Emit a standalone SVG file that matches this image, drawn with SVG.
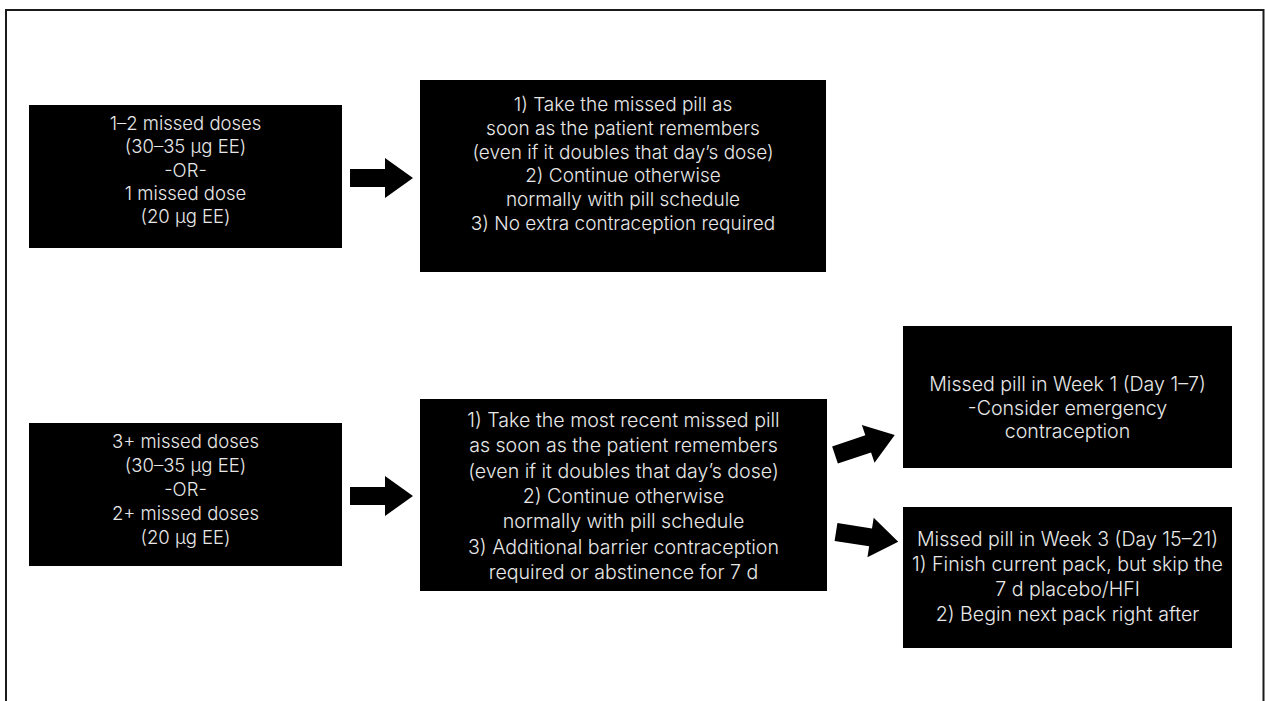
<svg xmlns="http://www.w3.org/2000/svg" width="1265" height="701" viewBox="0 0 1265 701">
<style>
.box{fill:#000}
.t{font-family:Inter,"Liberation Sans",Arial,sans-serif;font-weight:300;font-size:19px;fill:#e8e8e8;text-anchor:middle}
.s0{font-size:18.5px}
.s1{font-size:19px}
.s2{font-size:19.6px}
.arrow{fill:#000}
</style>
<defs>
<polygon id="arr" points="0,-9 35,-9 35,-20 63,0 35,20 35,9 0,9"/>
</defs>
<rect width="1265" height="701" fill="#fff"/>
<path d="M6,701 V10 H1263.5 V701" fill="none" stroke="#1a1a1a" stroke-width="2"/>
<g id="n1">
<rect class="box" x="29" y="105" width="313" height="143"/>
<text class="t s0" x="185.5" y="130">1–2 missed doses</text>
<text class="t s0" x="185.5" y="153.3">(30–35 μg EE)</text>
<text class="t s0" x="185.5" y="176.6">-OR-</text>
<text class="t s0" x="185.5" y="200">1 missed dose</text>
<text class="t s0" x="185.5" y="223.3">(20 μg EE)</text>
</g>
<g id="n2">
<rect class="box" x="420" y="80" width="406" height="192"/>
<text class="t s1" x="623" y="111">1) Take the missed pill as</text>
<text class="t s1" x="623" y="134.8">soon as the patient remembers</text>
<text class="t s1" x="623" y="158.6">(even if it doubles that day’s dose)</text>
<text class="t s1" x="623" y="182.4">2) Continue otherwise</text>
<text class="t s1" x="623" y="206.2">normally with pill schedule</text>
<text class="t s1" x="623" y="230">3) No extra contraception required</text>
</g>
<g id="n3">
<rect class="box" x="29" y="423" width="313" height="143"/>
<text class="t s0" x="185.5" y="448">3+ missed doses</text>
<text class="t s0" x="185.5" y="472">(30–35 μg EE)</text>
<text class="t s0" x="185.5" y="496">-OR-</text>
<text class="t s0" x="185.5" y="520">2+ missed doses</text>
<text class="t s0" x="185.5" y="544">(20 μg EE)</text>
</g>
<g id="n4">
<rect class="box" x="420" y="399" width="407" height="192"/>
<text class="t s2" x="623.5" y="427">1) Take the most recent missed pill</text>
<text class="t s2" x="623.5" y="452.3">as soon as the patient remembers</text>
<text class="t s2" x="623.5" y="477.6">(even if it doubles that day’s dose)</text>
<text class="t s2" x="623.5" y="503">2) Continue otherwise</text>
<text class="t s2" x="623.5" y="528.3">normally with pill schedule</text>
<text class="t s2" x="623.5" y="553.6">3) Additional barrier contraception</text>
<text class="t s2" x="623.5" y="579">required or abstinence for 7 d</text>
</g>
<g id="n5">
<rect class="box" x="903" y="326" width="329" height="142"/>
<text class="t s2" x="1067.5" y="391">Missed pill in Week 1 (Day 1–7)</text>
<text class="t s2" x="1067.5" y="414.5">-Consider emergency</text>
<text class="t s2" x="1067.5" y="438">contraception</text>
</g>
<g id="n6">
<rect class="box" x="903" y="507" width="329" height="141"/>
<text class="t s2" x="1067.5" y="545.5">Missed pill in Week 3 (Day 15–21)</text>
<text class="t s2" x="1067.5" y="570.5">1) Finish current pack, but skip the</text>
<text class="t s2" x="1067.5" y="595.5">7 d placebo/HFI</text>
<text class="t s2" x="1067.5" y="620.5">2) Begin next pack right after</text>
</g>
<g id="connectors">
<use href="#arr" class="arrow" transform="translate(350,178)"/>
<use href="#arr" class="arrow" transform="translate(350,496)"/>
<use href="#arr" class="arrow" transform="translate(835,455) rotate(-18.5)"/>
<use href="#arr" class="arrow" transform="translate(836,532) rotate(9)"/>
</g>
</svg>
